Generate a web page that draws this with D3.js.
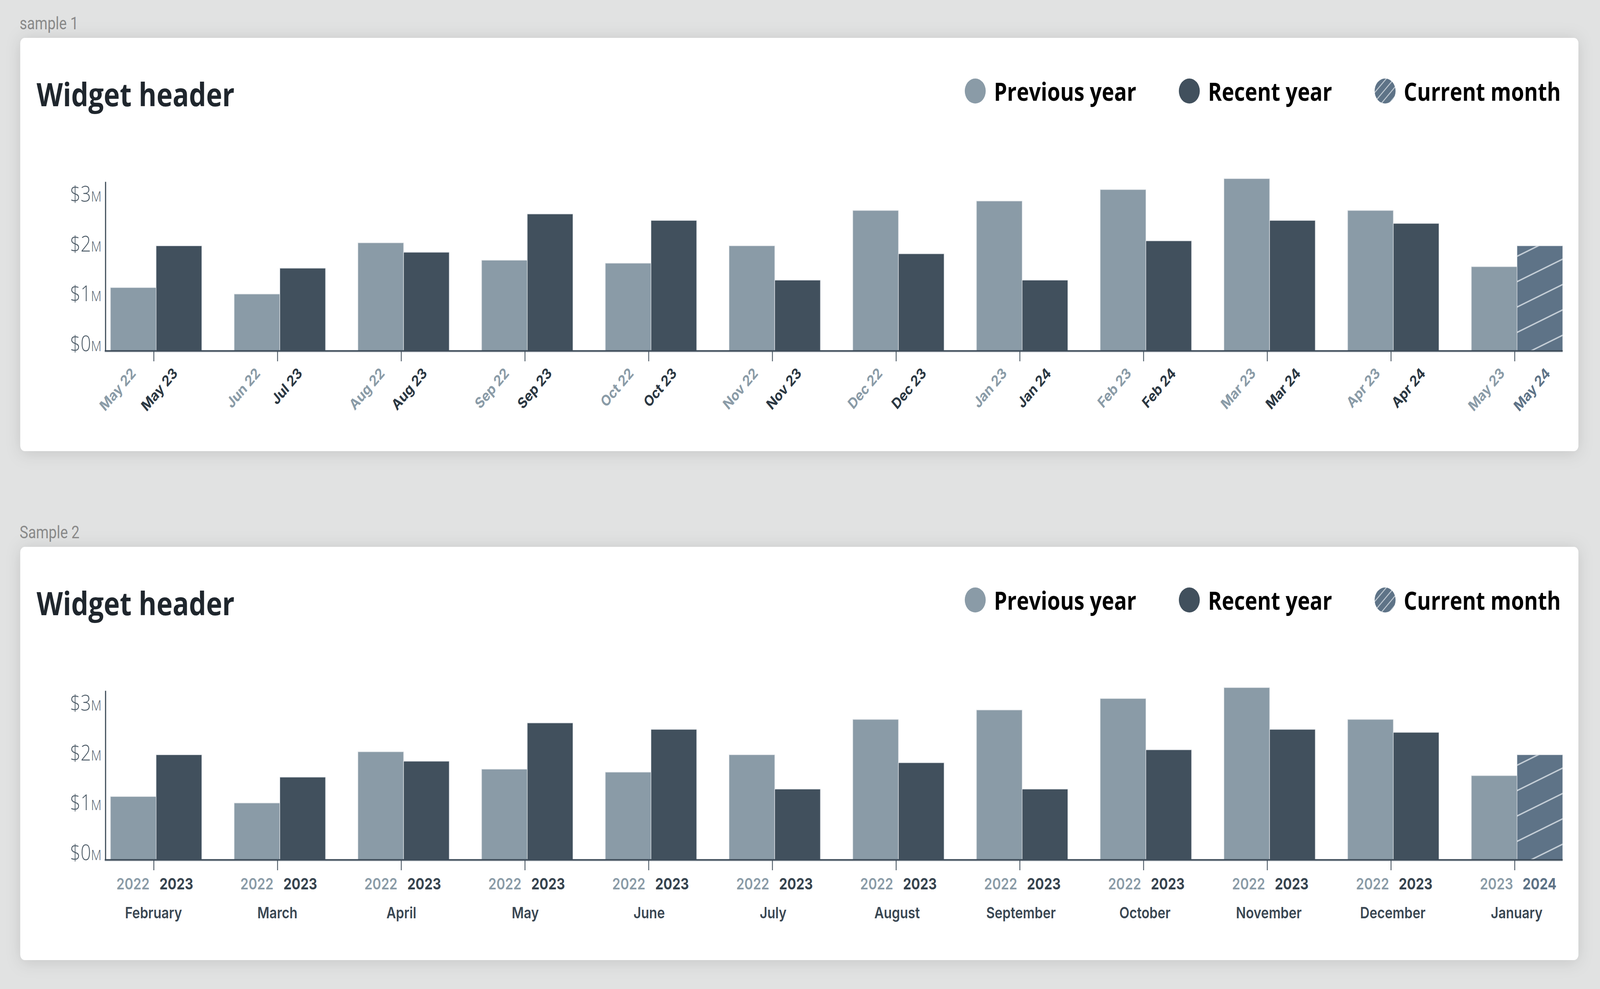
<!DOCTYPE html>
<html>
<head>
<meta charset="utf-8">
<script src="https://cdn.jsdelivr.net/npm/d3@7"></script>
<style>
  html, body { margin: 0; padding: 0; width: 100%; height: 100%; overflow: hidden; background: #e1e2e2; }
  svg { display: block; width: 100vw; height: 100vh; }
</style>
</head>
<body>
<svg id="page" viewBox="0 0 4888 2532" preserveAspectRatio="none"></svg>
<script>
// Values in $M (same data in both samples)
const previousValues = [1.27, 1.14, 2.17, 1.82, 1.76, 2.11, 2.82, 3.01, 3.24, 3.46, 2.82, 1.69];
const recentValues   = [2.11, 1.66, 1.98, 2.75, 2.62, 1.42, 1.95, 1.42, 2.21, 2.62, 2.56, 2.11];

// sample 1: one label per bar
const previousLabels = ["May 22", "Jun 22", "Aug 22", "Sep 22", "Oct 22", "Nov 22", "Dec 22", "Jan 23", "Feb 23", "Mar 23", "Apr 23", "May 23"];
const recentLabels   = ["May 23", "Jul 23", "Aug 23", "Sep 23", "Oct 23", "Nov 23", "Dec 23", "Jan 24", "Feb 24", "Mar 24", "Apr 24", "May 24"];

// sample 2: years per bar + month per group
const monthNames    = ["February", "March", "April", "May", "June", "July", "August", "September", "October", "November", "December", "January"];
const previousYears = ["2022", "2022", "2022", "2022", "2022", "2022", "2022", "2022", "2022", "2022", "2022", "2023"];
const recentYears   = ["2023", "2023", "2023", "2023", "2023", "2023", "2023", "2023", "2023", "2023", "2023", "2024"];

const yTicks = [0, 1, 2, 3];
const yMax = 3.4;
const legendItems = ["Previous year", "Recent year", "Current month"];

const COLORS = {
    previous: "#8a9ba7",
    recent: "#41505d",
    current: "#5e7387",
    axis: "#3f4d5a"
};

const svg = d3.select("#page");
svg.append("rect").attr("width", 4888).attr("height", 2532).attr("fill", "#e1e2e2");

const defs = svg.append("defs");

const shadow = defs.append("filter").attr("id", "shadow")
    .attr("x", "-5%").attr("y", "-20%").attr("width", "110%").attr("height", "140%");
shadow.append("feDropShadow")
    .attr("dx", 0).attr("dy", 4).attr("stdDeviation", 22)
    .attr("flood-color", "#000").attr("flood-opacity", 0.13);

// hatch for the current month bar
function makeHatch(id, size, angle, width) {
    const p = defs.append("pattern").attr("id", id)
        .attr("patternUnits", "userSpaceOnUse")
        .attr("width", size).attr("height", size)
        .attr("patternTransform", `rotate(${angle})`);
    p.append("rect").attr("width", size).attr("height", size).attr("fill", COLORS.current);
    p.append("line")
        .attr("x1", 0).attr("x2", size).attr("y1", size / 2).attr("y2", size / 2)
        .attr("stroke", "#c9d2da").attr("stroke-width", width);
}
makeHatch("hatch", 60, -22.5, 3.5);
makeHatch("hatchSmall", 17, -45, 2.5);

function drawWidget(top, sampleName, categories, mode) {
    const g = svg.append("g").attr("transform", `translate(0,${top})`);

    g.append("text")
        .attr("x", 60).attr("y", -22)
        .attr("font-family", "Roboto, sans-serif")
        .attr("font-size", 44)
        .attr("fill", "#8a8a8a")
        .text(sampleName);

    g.append("rect")
        .attr("x", 62).attr("y", 0)
        .attr("width", 4760).attr("height", 1058)
        .attr("rx", 14)
        .attr("fill", "#fff")
        .attr("filter", "url(#shadow)");

    g.append("text")
        .attr("x", 112).attr("y", 175)
        .attr("font-family", "'Open Sans', sans-serif")
        .attr("font-weight", 700)
        .attr("font-size", 83)
        .attr("fill", "#1f262d")
        .text("Widget header");

    // Legend, laid out from the right edge
    const legendFills = [COLORS.previous, COLORS.recent, "url(#hatchSmall)"];
    const legend = g.append("g");
    let right = 4768;
    for (let j = legendItems.length - 1; j >= 0; j--) {
        const t = legend.append("text")
            .attr("x", right).attr("y", 161)
            .attr("text-anchor", "end")
            .attr("font-family", "'Open Sans', sans-serif")
            .attr("font-weight", 700)
            .attr("font-size", 64)
            .attr("fill", "#000")
            .text(legendItems[j]);
        const w = t.node().getComputedTextLength();
        const cx = right - w - 57;
        legend.append("circle")
            .attr("cx", cx).attr("cy", 136).attr("r", 32)
            .attr("fill", legendFills[j]);
        right = cx - 32 - 130;
    }

    const rows = categories.map((c, i) => ({
        key: c,
        i: i,
        previous: previousValues[i],
        recent: recentValues[i],
        current: i === categories.length - 1
    }));

    const x0 = d3.scaleBand()
        .domain(categories)
        .range([337.5, 4774])
        .paddingInner(0.262)
        .paddingOuter(0);

    const x1 = d3.scaleBand()
        .domain(["previous", "recent"])
        .range([0, x0.bandwidth()]);

    const y = d3.scaleLinear()
        .domain([0, yMax])
        .range([801, 368]);

    // Bars
    const groups = g.append("g").selectAll("g")
        .data(rows)
        .join("g")
        .attr("transform", d => `translate(${x0(d.key)},0)`);

    groups.selectAll("rect")
        .data(d => [
            { s: "previous", v: d.previous, cur: false },
            { s: "recent", v: d.recent, cur: d.current }
        ])
        .join("rect")
        .attr("x", d => x1(d.s))
        .attr("width", x1.bandwidth())
        .attr("y", d => y(d.v))
        .attr("height", d => y(0) - y(d.v))
        .attr("fill", d => d.cur ? "url(#hatch)" : COLORS[d.s])
        .attr("stroke", "#dfe3e7")
        .attr("stroke-width", 1.5);

    // X baseline (dark line with a faint light line under it)
    g.append("line")
        .attr("x1", 320).attr("x2", x0.range()[1])
        .attr("y1", y(0) + 3.5).attr("y2", y(0) + 3.5)
        .attr("stroke", "#e3e6e9").attr("stroke-width", 2.5);
    g.append("line")
        .attr("x1", 320).attr("x2", x0.range()[1])
        .attr("y1", y(0) + 0.5).attr("y2", y(0) + 0.5)
        .attr("stroke", COLORS.axis).attr("stroke-width", 4);

    // X ticks
    g.append("g")
        .attr("transform", `translate(-7,${y(0) + 2})`)
        .call(d3.axisBottom(x0).tickSize(25).tickSizeOuter(0).tickFormat(() => ""))
        .call(a => a.select(".domain").remove())
        .call(a => a.selectAll(".tick line").attr("stroke", COLORS.axis).attr("stroke-width", 2.5));

    // Y axis
    g.append("g")
        .attr("transform", "translate(322,0)")
        .call(d3.axisLeft(y).tickValues(yTicks).tickSize(0).tickSizeOuter(0).tickPadding(12))
        .call(a => a.select(".domain").attr("stroke", COLORS.axis).attr("stroke-width", 3.5))
        .call(a => a.selectAll(".tick text").each(function (d) {
            const t = d3.select(this)
                .attr("dy", 0)
                .attr("font-family", "'Open Sans', sans-serif")
                .attr("font-weight", 300)
                .attr("fill", "#4f5d69")
                .text(null);
            t.append("tspan").attr("font-size", 56).text("$" + d);
            t.append("tspan").attr("font-size", 37).text("M");
        }));

    const barCenter = (d, s) => x0(d.key) + x1(s) + x1.bandwidth() / 2;
    const last = categories.length - 1;

    if (mode === "rotated") {
        // labels creep a little to the right across the axis in the reference
        const prevShift = d3.scaleLinear().domain([0, last]).range([10, 34]);
        const recShift = d3.scaleLinear().domain([0, last]).range([-2, 34]);
        const lab = g.append("g")
            .attr("font-family", "Inter, sans-serif")
            .attr("font-size", 38)
            .attr("font-weight", 700);
        lab.selectAll("text.prev")
            .data(rows).join("text")
            .attr("class", "prev")
            .attr("transform", d => `translate(${barCenter(d, "previous") + prevShift(d.i)},861) rotate(-45)`)
            .attr("text-anchor", "end")
            .attr("fill", COLORS.previous)
            .text(d => previousLabels[d.i]);
        lab.selectAll("text.rec")
            .data(rows).join("text")
            .attr("class", "rec")
            .attr("transform", d => `translate(${barCenter(d, "recent") + recShift(d.i)},861) rotate(-45)`)
            .attr("text-anchor", "end")
            .attr("fill", d => d.current ? COLORS.current : "#2b3742")
            .text(d => recentLabels[d.i]);
    } else {
        const prevShift = d3.scaleLinear().domain([0, last]).range([-1, 7]);
        const recShift = d3.scaleLinear().domain([0, last]).range([-8, -1]);
        const lab = g.append("g")
            .attr("font-family", "Inter, sans-serif")
            .attr("font-size", 40)
            .attr("text-anchor", "middle");
        lab.selectAll("text.prev")
            .data(rows).join("text")
            .attr("class", "prev")
            .attr("x", d => barCenter(d, "previous") + prevShift(d.i))
            .attr("y", 877)
            .attr("font-weight", 600)
            .attr("fill", COLORS.previous)
            .text(d => previousYears[d.i]);
        lab.selectAll("text.rec")
            .data(rows).join("text")
            .attr("class", "rec")
            .attr("x", d => barCenter(d, "recent") + recShift(d.i))
            .attr("y", 877)
            .attr("font-weight", 700)
            .attr("fill", d => d.current ? COLORS.current : "#37444f")
            .text(d => recentYears[d.i]);
        lab.selectAll("text.month")
            .data(rows).join("text")
            .attr("class", "month")
            .attr("x", d => x0(d.key) + x0.bandwidth() / 2 + recShift(d.i))
            .attr("y", 951)
            .attr("font-weight", 600)
            .attr("fill", "#3a4753")
            .text(d => d.key);
    }
}

drawWidget(97, "sample 1", recentLabels, "rotated");
drawWidget(1400, "Sample 2", monthNames, "years");
</script>
</body>
</html>
